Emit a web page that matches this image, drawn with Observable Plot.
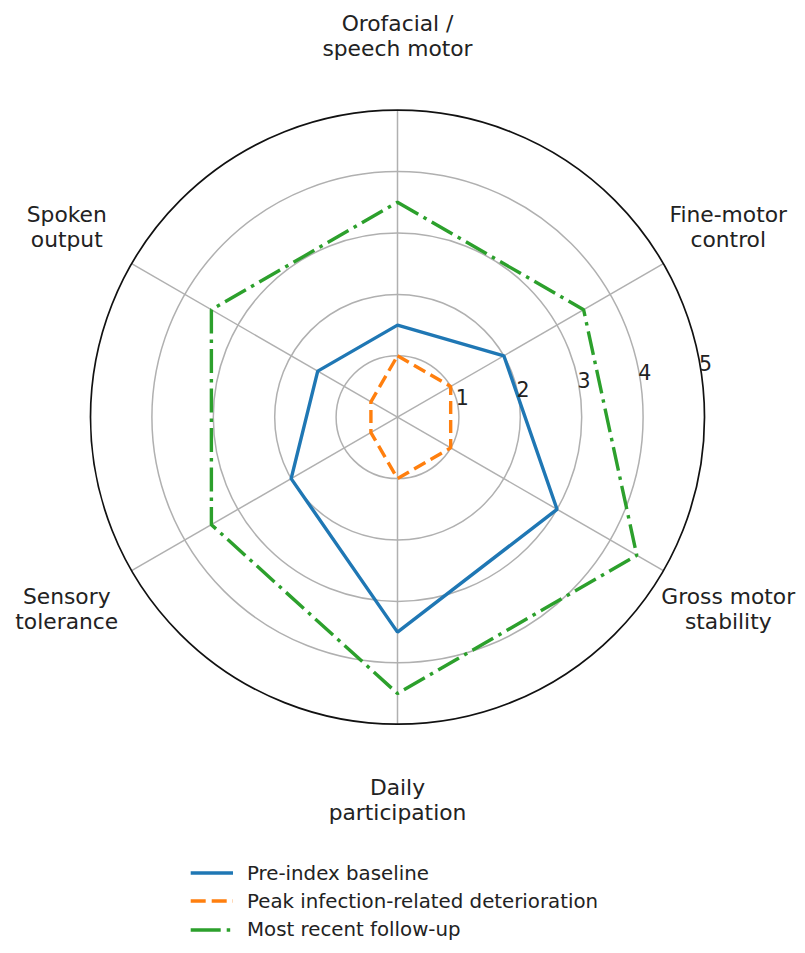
<!DOCTYPE html>
<html>
<head>
<meta charset="utf-8">
<script src="https://cdn.jsdelivr.net/npm/d3@7"></script>
<script src="https://cdn.jsdelivr.net/npm/@observablehq/plot@0.6"></script>
<style>
  body { margin: 0; background: #fff; font-family: "DejaVu Sans", sans-serif; }
  #page { position: relative; width: 805px; height: 953px; overflow: hidden; }
  #chart { position: absolute; left: 0; top: 0; }
  #legend { position: absolute; left: 190px; top: 859px; font-size: 19.8px; color: #222; }
  .row { display: flex; align-items: center; height: 28.3px; }
  .row svg { margin-right: 14px; display: block; }
</style>
</head>
<body>
<div id="page">
  <div id="chart"></div>
  <div id="legend"></div>
</div>
<script>
// ---- data ----
const categories = [
  "Orofacial /\nspeech motor",
  "Fine-motor\ncontrol",
  "Gross motor\nstability",
  "Daily\nparticipation",
  "Sensory\ntolerance",
  "Spoken\noutput"
];
const baseline = [1.5, 2.0, 3.0, 3.5, 2.0, 1.5];
const peak = [1.0, 1.0, 1.0, 1.0, 0.5, 0.5];
const followUp = [3.5, 3.5, 4.5, 4.5, 3.5, 3.5];
const rTicks = [1, 2, 3, 4, 5];
const seriesNames = ["Pre-index baseline", "Peak infection-related deterioration", "Most recent follow-up"];

// ---- geometry helpers ----
const n = categories.length;
const ang = i => (i * 2 * Math.PI) / n; // clockwise from top
const px = (v, i) => v * Math.sin(ang(i));
const py = (v, i) => v * Math.cos(ang(i));
const toPoints = vals => vals.map((v, i) => ({x: px(v, i), y: py(v, i)}));

const unit = 61.4, cx = 397, cy = 416.7, rMax = 5;
const tickAngle = 82 * Math.PI / 180;
const labelR = 6.22;

const styles = [
  {color: "#1f77b4", dash: null},
  {color: "#ff7f0e", dash: "13,6"},
  {color: "#2ca02c", dash: "24,6,3.5,6"}
];
const seriesData = [baseline, peak, followUp];

const plot = Plot.plot({
  width: 805,
  height: 850,
  margin: 0,
  style: {fontFamily: "DejaVu Sans, sans-serif", background: "white", overflow: "visible"},
  x: {axis: null, domain: [-rMax, rMax], range: [cx - rMax * unit, cx + rMax * unit]},
  y: {axis: null, domain: [-rMax, rMax], range: [cy + rMax * unit, cy - rMax * unit]},
  r: {type: "linear", domain: [0, rMax], range: [0, rMax * unit]},
  marks: [
    // inner grid rings
    Plot.dot(rTicks.filter(t => t < rMax), {x: 0, y: 0, r: d => d, stroke: "#b0b0b0", strokeWidth: 1.5, fill: "none"}),
    // spokes
    Plot.link(categories, {
      x1: 0, y1: 0,
      x2: (d, i) => px(rMax, i), y2: (d, i) => py(rMax, i),
      stroke: "#b0b0b0", strokeWidth: 1.5
    }),
    // outer boundary
    Plot.dot([rMax], {x: 0, y: 0, r: d => d, stroke: "#111", strokeWidth: 1.7, fill: "none"}),
    // series
    ...seriesData.map((vals, k) => Plot.line(toPoints(vals), {
      x: "x", y: "y",
      curve: "linear-closed",
      stroke: styles[k].color,
      strokeWidth: 3.4,
      strokeDasharray: styles[k].dash,
      strokeLinecap: "butt",
      strokeLinejoin: "miter"
    })),
    // radial tick labels
    Plot.text(rTicks, {
      x: d => d * Math.sin(tickAngle),
      y: d => d * Math.cos(tickAngle),
      text: d => String(d),
      dx: 4, dy: -10,
      fontSize: 20.5, fill: "#222",
      textAnchor: "middle", lineAnchor: "middle"
    }),
    // category labels
    Plot.text(categories, {
      x: (d, i) => px(labelR, i),
      y: (d, i) => py(labelR, i),
      text: d => d,
      fontSize: 21.8, fill: "#222",
      lineHeight: 1.15,
      textAnchor: "middle", lineAnchor: "middle"
    })
  ]
});
document.getElementById("chart").appendChild(plot);

// ---- legend ----
const legend = document.getElementById("legend");
seriesNames.forEach((name, k) => {
  const row = document.createElement("div");
  row.className = "row";
  const ns = "http://www.w3.org/2000/svg";
  const svg = document.createElementNS(ns, "svg");
  svg.setAttribute("width", "43");
  svg.setAttribute("height", "10");
  const line = document.createElementNS(ns, "line");
  line.setAttribute("x1", "0.7"); line.setAttribute("x2", "43");
  line.setAttribute("y1", "5"); line.setAttribute("y2", "5");
  line.setAttribute("stroke", styles[k].color);
  line.setAttribute("stroke-width", "3.4");
  if (styles[k].dash) line.setAttribute("stroke-dasharray", k === 2 ? "30,6,3.5,6" : "15,6");
  svg.appendChild(line);
  row.appendChild(svg);
  const span = document.createElement("span");
  span.textContent = name;
  row.appendChild(span);
  legend.appendChild(row);
});
</script>
</body>
</html>
